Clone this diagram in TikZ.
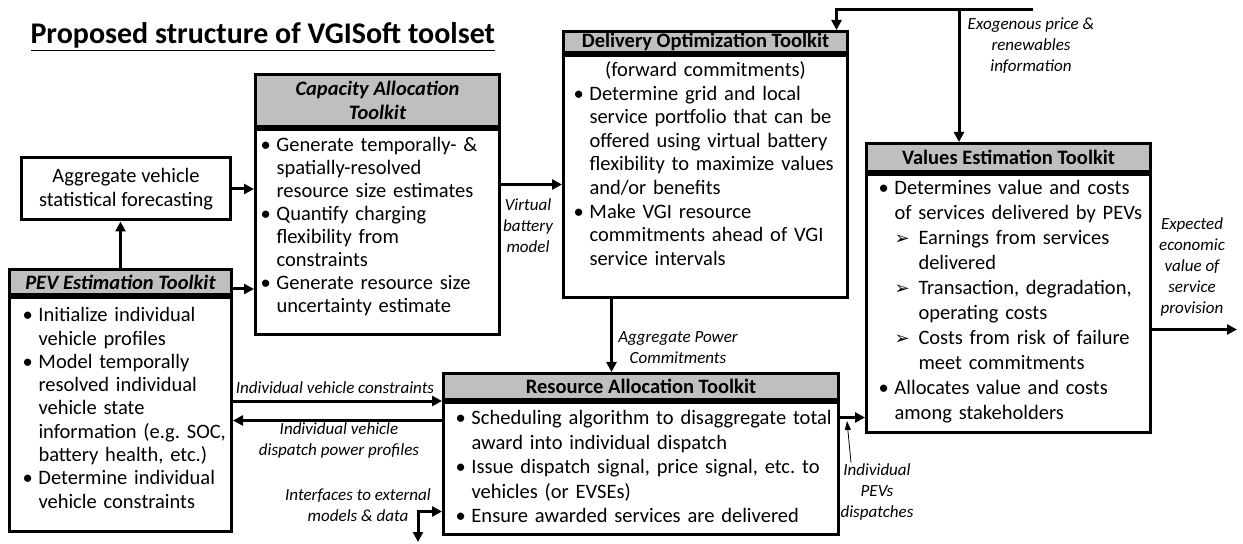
\documentclass[tikz,border=0pt]{standalone}
\usepackage{fontspec}
\setmainfont{Carlito}
\newfontfamily\vgsym{DejaVu Sans}
\usepackage{xcolor}
\usepackage{tikz}
\usetikzlibrary{positioning,arrows.meta}
\definecolor{vgGray}{HTML}{BFBFBF}
\definecolor{vgBlack}{HTML}{000000}
\frenchspacing
\newcommand{\vgbody}{\fontsize{20.5bp}{23.3bp}\selectfont}
\newcommand{\vglabel}{\fontsize{17bp}{21bp}\selectfont}
\newcommand{\vgpt}{\par\hangindent=16bp\hangafter=1\noindent\makebox[16bp][l]{\textbullet}}
\newcommand{\vgsub}{\par\hangindent=40bp\hangafter=1\noindent\hspace*{16bp}%
  \makebox[24bp][l]{\vgsym\fontsize{18bp}{18bp}\selectfont ➢}}
% box of fixed height #1, text starting #2 below its top
\newcommand{\vgfill}[3]{\vbox to #1{\kern#2\raggedright #3\par\vfil}}
\tikzset{
  vg-box/.style={
    draw=vgBlack, line width=3bp, fill=white, inner sep=0pt
  },
  vg-head/.style={vg-box, fill=vgGray, font=\vgbody\bfseries, align=center},
  vg-body/.style={vg-box, font=\vgbody, inner xsep=4bp},
  vg-flow/.style={-{Triangle[length=10bp,width=10bp]}, line width=3bp},
  vg-flow2/.style={{Triangle[length=10bp,width=10bp]}-{Triangle[length=10bp,width=10bp]},
    line width=3bp},
  vg-thin/.style={-{Triangle[length=9bp,width=6bp]}, line width=0.8bp},
  vg-label/.style={font=\vglabel\itshape, align=center, inner sep=1bp},
  vg-title/.style={font=\fontsize{30bp}{32bp}\selectfont\bfseries}
}
\begin{document}
\begin{tikzpicture}[x=1bp, y=-1bp]
\useasboundingbox (0,0) rectangle (1243,544);

\node[vg-title, anchor=base west] (title) at (27,44)
  {\underline{Proposed structure of VGISoft toolset}};

\node[vg-box, minimum width=208bp, minimum height=62bp, font=\vgbody,
  align=center] (agg) at (126,189) {Aggregate vehicle\\statistical forecasting};

\node[vg-head, font=\vgbody\bfseries\itshape, minimum width=222bp,
  minimum height=25bp, anchor=north west] (pevh) at (8,268) {PEV Estimation Toolkit};
\node[vg-body, below=0pt of pevh, inner xsep=1bp, text width=220bp,
  minimum width=222bp] (pevb) {\vgfill{234bp}{10bp}{\leftskip=12bp
  \vgpt Initialize individual\newline vehicle profiles
  \vgpt Model temporally\newline resolved individual\newline vehicle state\newline
    information (e.g. SOC,\newline battery health, etc.)
  \vgpt Determine individual\newline vehicle constraints}};

\node[vg-head, font=\vgbody\bfseries\itshape, minimum width=244bp,
  minimum height=52bp, anchor=north west] (caph) at (254,73)
  {Capacity Allocation\\Toolkit};
\node[vg-body, below=0pt of caph, text width=236bp, minimum width=244bp]
  (capb) {\vgfill{205bp}{8bp}{\leftskip=1bp\baselineskip=22.9bp
  \vgpt Generate temporally- \&\newline spatially-resolved\newline resource size estimates
  \vgpt Quantify charging\newline flexibility from\newline constraints
  \vgpt Generate resource size\newline uncertainty estimate}};

\node[vg-head, minimum width=284bp, minimum height=21bp, anchor=north west]
  (delh) at (562,30) {Delivery Optimization Toolkit};
\node[vg-body, below=0pt of delh, text width=276bp, minimum width=284bp]
  (delb) {\vgfill{242bp}{6bp}{\baselineskip=23.6bp
  {\centering (forward commitments)\par}%
  \leftskip=6bp
  \vgpt Determine grid and local\newline service portfolio that can be\newline
    offered using virtual battery\newline flexibility to maximize values\newline
    and/or benefits
  \vgpt Make VGI resource\newline commitments ahead of VGI\newline
    service intervals}};

\node[vg-head, minimum width=284bp, minimum height=28bp, anchor=north west]
  (valh) at (865,142) {Values Estimation Toolkit};
\node[vg-body, below=0pt of valh, text width=276bp, minimum width=284bp]
  (valb) {\vgfill{258bp}{6bp}{\leftskip=8bp\baselineskip=25bp
  \vgpt Determines value and costs\newline of services delivered by PEVs
  \vgsub Earnings from services\newline delivered
  \vgsub Transaction, degradation,\newline operating costs
  \vgsub Costs from risk of failure\newline meet commitments
  \vgpt Allocates value and costs\newline among stakeholders}};

\node[vg-head, minimum width=395bp, minimum height=26bp, anchor=north west]
  (resh) at (442,372) {Resource Allocation Toolkit};
\node[vg-body, below=0pt of resh, text width=387bp, minimum width=395bp]
  (resb) {\vgfill{132bp}{8bp}{\leftskip=8bp\baselineskip=24.5bp
  \vgpt Scheduling algorithm to disaggregate total\newline award into individual dispatch
  \vgpt Issue dispatch signal, price signal, etc. to\newline vehicles (or EVSEs)
  \vgpt Ensure awarded services are delivered}};

% labels
\node[vg-label] (vbm) at (528,226) {Virtual\\battery\\model};
\node[vg-label] (exo) at (1031,46) {Exogenous price \&\\renewables\\information};
\node[vg-label] (evl) at (1192,267) {Expected\\economic\\value of\\service\\provision};
\node[vg-label] (apc) at (678,348) {Aggregate Power\\Commitments};
\node[vg-label] (ivc) at (335,388) {Individual vehicle constraints};
\node[vg-label] (ivd) at (339,440) {Individual vehicle\\dispatch power profiles};
\node[vg-label] (ifl) at (358,505) {Interfaces to external\\models \& data};
\node[vg-label] (ipd) at (877,492) {Individual\\PEVs\\dispatches};

\coordinate (exoR) at (1033,10);
\coordinate (exoB) at (959,10);
\coordinate (ifc) at (418,542);
\coordinate (ipdTip) at (847,421);
\coordinate (evOut) at (1237,325);

% connectors
\draw[vg-flow] (pevh.north) -- (pevh.north |- agg.south);
\draw[vg-flow] (agg.east) -- (agg.east -| capb.west);
\draw[vg-flow] ([yshift=-7bp]pevh.east) -- ([yshift=-7bp]pevh.east -| capb.west);
\draw[vg-flow] ([yshift=47.5bp]capb.east) -- ([yshift=47.5bp]capb.east -| delb.west);
\draw[vg-flow] (exoR) -| ([xshift=131bp]delh.north);
\draw[vg-flow] (exoB) -- (exoB |- valh.north);
\draw[vg-flow] ([xshift=-94bp]delb.south) -- ([xshift=-94bp]delb.south |- resh.north);
\draw[vg-flow] (pevb.east |- resh.south) -- (resh.south west);
\draw[vg-flow] ([yshift=48bp]resb.west) -- ([yshift=48bp]resb.west -| pevb.east);
\draw[vg-flow2] (ifc) |- ([yshift=-43bp]resb.west);
\draw[vg-flow] ([yshift=51bp]resb.east) -- ([yshift=51bp]resb.east -| valb.west);
\draw[vg-thin] ([xshift=-26bp]ipd.north) -- (ipdTip);
\draw[vg-flow] ([yshift=-26bp]valb.east) -- ([yshift=-26bp]valb.east -| evOut);
\end{tikzpicture}
\end{document}
